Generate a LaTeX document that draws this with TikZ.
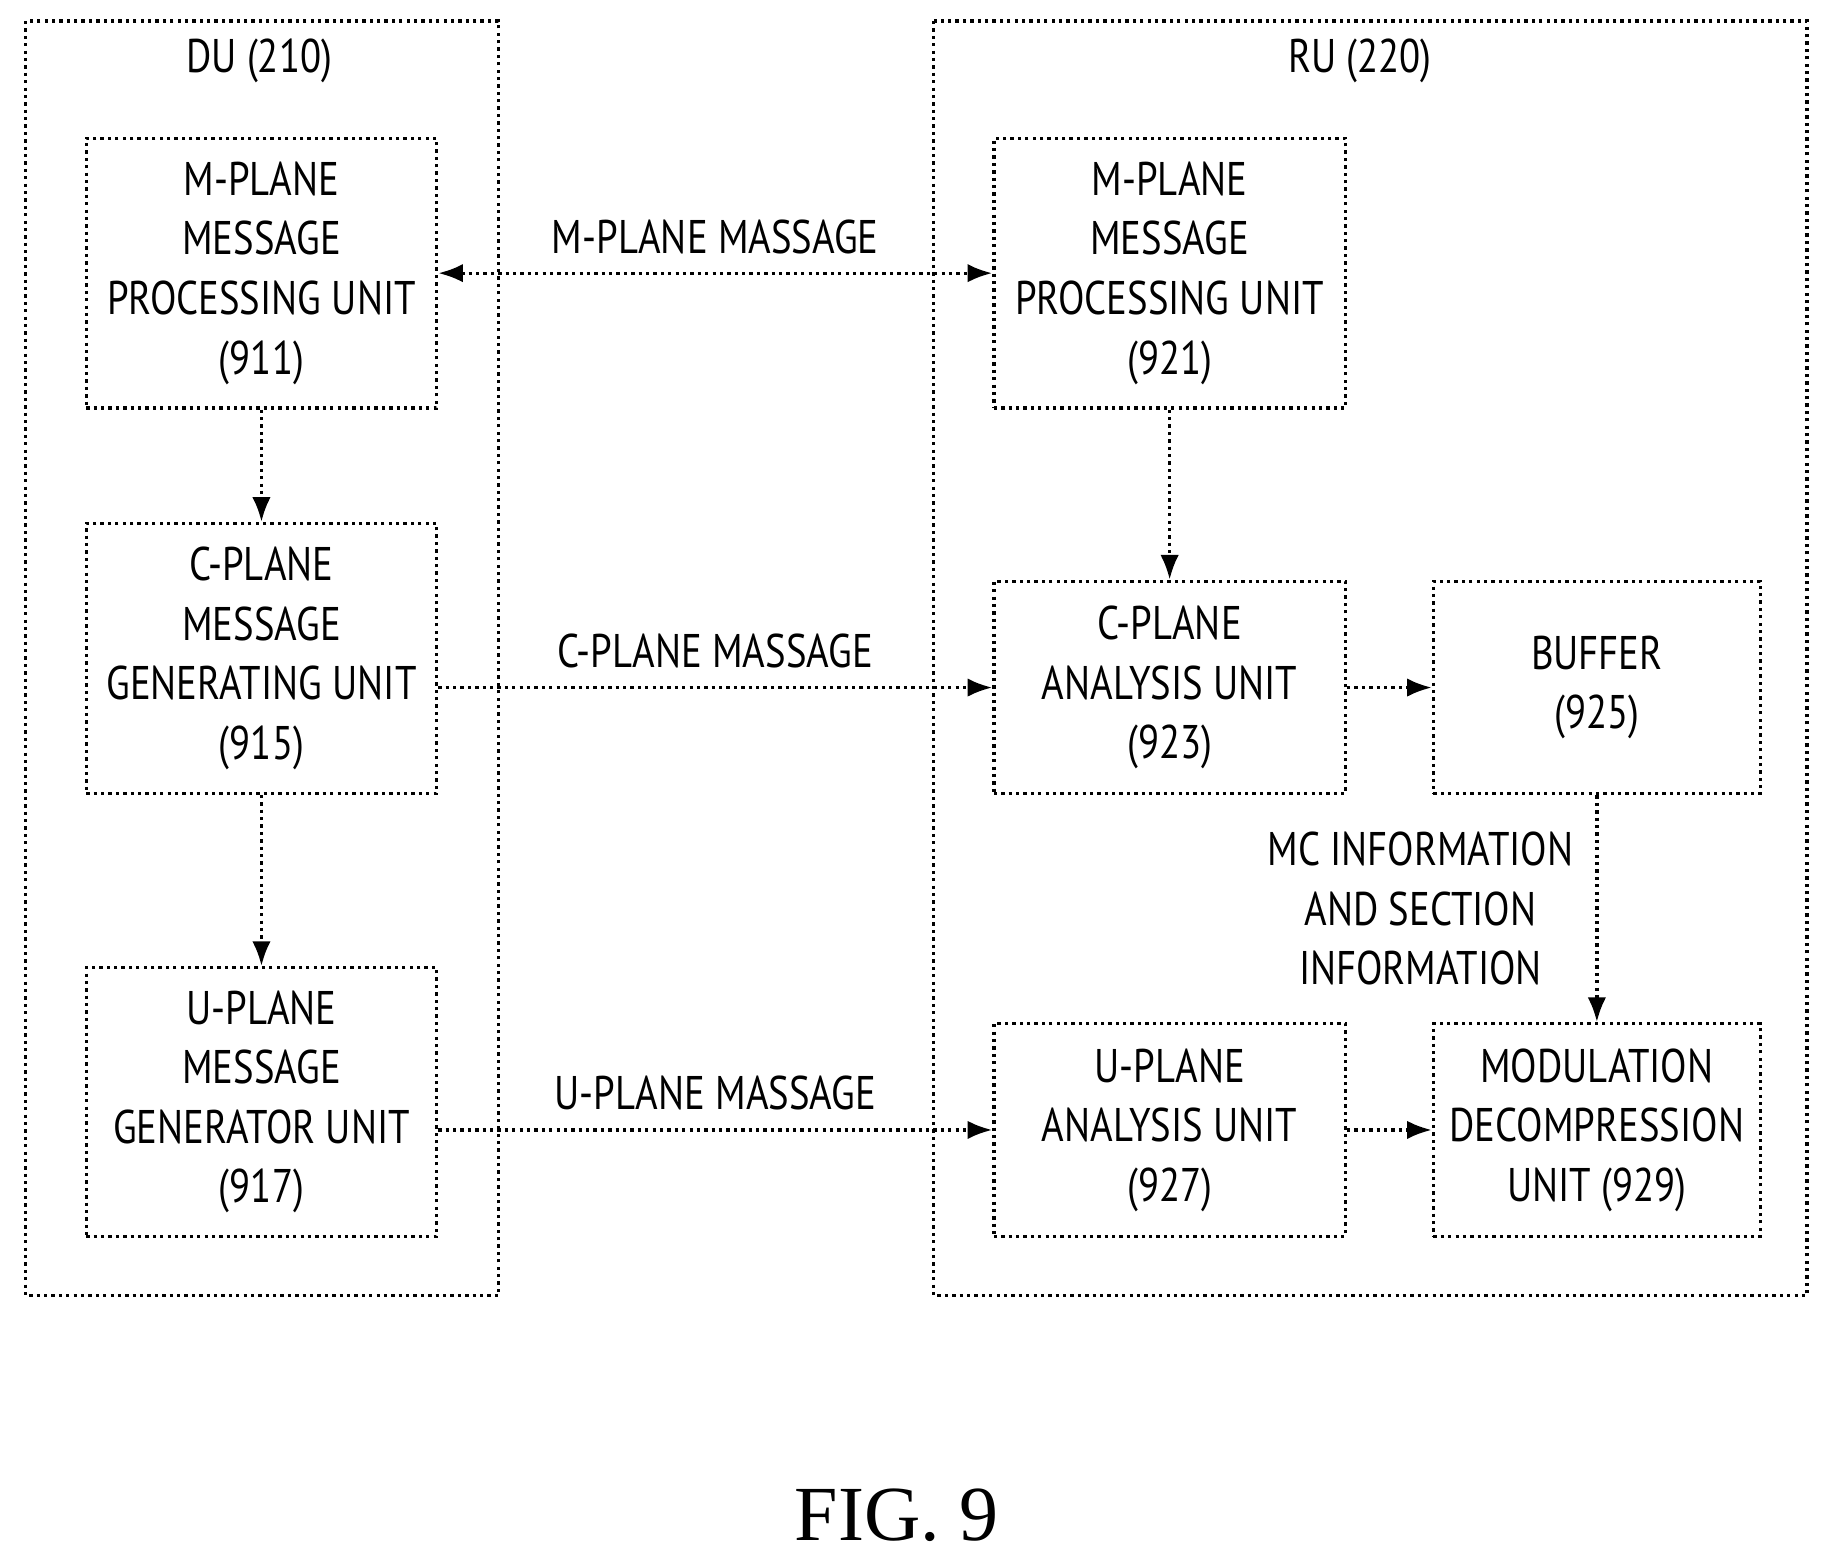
\documentclass[tikz,border=0pt]{standalone}
\usepackage{fontspec}
\setmainfont{PT Sans}[FakeStretch=0.82]
\newfontfamily\figfont{Liberation Serif}
\usetikzlibrary{arrows.meta}
\begin{document}
\begin{tikzpicture}[x=0.01cm,y=-0.01cm]
  \tikzset{unit/.style={draw,densely dotted,thick,align=center,font=\fontsize{11.5}{14.5}\selectfont},
    conn/.style={densely dotted,thick,-{Latex[length=6pt]}},
    lbl/.style={font=\fontsize{11.5}{14.5}\selectfont,align=center}}
  \useasboundingbox (0,0) rectangle (1560,1336);
  % outer boxes
  \draw[densely dotted,thick] (22,18) rectangle (427,1110);
  \draw[densely dotted,thick] (800,18) rectangle (1548,1110);
  \node[lbl] (du) at (222,52) {DU (210)};
  \node[lbl] (ru) at (1165,52) {RU (220)};
  % DU units
  \node[unit,minimum width=3cm,minimum height=2.31cm] (911) at (224,234) {M-PLANE\\MESSAGE\\PROCESSING UNIT\\(911)};
  \node[unit,minimum width=3cm,minimum height=2.31cm] (915) at (224,564) {C-PLANE\\MESSAGE\\GENERATING UNIT\\(915)};
  \node[unit,minimum width=3cm,minimum height=2.30cm] (917) at (224,944) {U-PLANE\\MESSAGE\\GENERATOR UNIT\\(917)};
  % RU units
  \node[unit,minimum width=3.01cm,minimum height=2.31cm] (921) at (1002,234) {M-PLANE\\MESSAGE\\PROCESSING UNIT\\(921)};
  \node[unit,minimum width=3.01cm,minimum height=1.82cm] (923) at (1002,589) {C-PLANE\\ANALYSIS UNIT\\(923)};
  \node[unit,minimum width=2.8cm,minimum height=1.82cm] (925) at (1368,589) {BUFFER\\(925)};
  \node[unit,minimum width=3.01cm,minimum height=1.82cm] (927) at (1002,968) {U-PLANE\\ANALYSIS UNIT\\(927)};
  \node[unit,minimum width=2.8cm,minimum height=1.82cm] (929) at (1368,968) {MODULATION\\DECOMPRESSION\\UNIT (929)};
  % connectors
  \draw[conn,{Latex[length=6pt]}-{Latex[length=6pt]}] (911.east) -- node[lbl,above=1pt]{M-PLANE MASSAGE} (921.west);
  \draw[conn] (915.east |- 923.west) -- node[lbl,above=1pt]{C-PLANE MASSAGE} (923.west);
  \draw[conn] (917.east |- 927.west) -- node[lbl,above=1pt]{U-PLANE MASSAGE} (927.west);
  \draw[conn] (911) -- (915);
  \draw[conn] (915) -- (917);
  \draw[conn] (921) -- (923);
  \draw[conn] (923) -- (925);
  \draw[conn] (927) -- (929);
  \draw[conn] (925) -- node[lbl,left=2pt]{MC INFORMATION\\AND SECTION\\INFORMATION} (929);
  \node[font=\figfont\fontsize{19}{22}\selectfont] (fig) at (768,1298) {FIG. 9};
\end{tikzpicture}
\end{document}
